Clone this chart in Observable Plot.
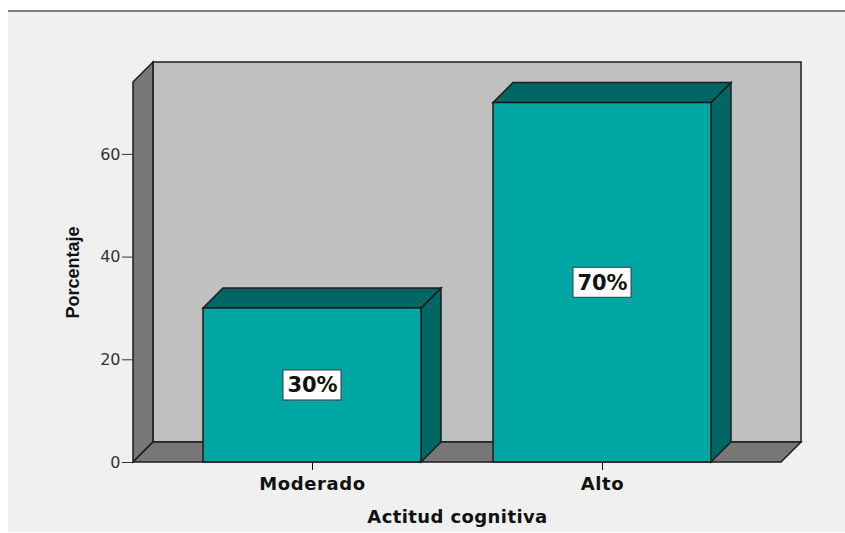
<!DOCTYPE html>
<html>
<head>
<meta charset="utf-8">
<script src="https://cdn.jsdelivr.net/npm/d3@7"></script>
<script src="https://cdn.jsdelivr.net/npm/@observablehq/plot@0.6"></script>
<style>
  html, body { margin: 0; padding: 0; background: #ffffff; }
  #panel {
    position: absolute; left: 8px; top: 10px; width: 837px; height: 520px;
    background: #f0f0f0; border-top: 2px solid #7f7f7f;
  }
  #chart { position: absolute; left: 0; top: 0; }
  #chart g[aria-label="x-axis tick label"] text { letter-spacing: 0.6px; }
  #chart g.x-title text { letter-spacing: 0.4px; }
</style>
</head>
<body>
<div id="panel"></div>
<div id="chart"></div>
<script>
// Attitude distribution (percent of respondents)
const categories = ["Moderado", "Alto"];
const percentages = [30, 70];
const valueLabels = ["30%", "70%"];
const yTicks = [0, 20, 40, 60];
const xTitle = "Actitud cognitiva";
const yTitle = "Porcentaje";

const rows = categories.map((category, i) => ({
  category,
  value: percentages[i],
  label: valueLabels[i]
}));

// Pseudo-3D styling
const DEPTH = 20;
const EDGE = "#1c1c1c";
const WALL_BACK = "#c0c0c0";
const WALL_SIDE = "#777777";
const BAR_FRONT = "#00a6a4";
const BAR_SHADE = "#006663";
const FONT = "'DejaVu Sans', Verdana, sans-serif";

// Plot hands render functions (index, scales, values, dimensions, context);
// pick out the scales and dimensions objects.
function pick(args) {
  const scales = args.find(a => a && typeof a.x === "function" && typeof a.y === "function");
  const dims = args.find(a => a && typeof a === "object" && "marginLeft" in a && "width" in a);
  return {scales, dims};
}

function polygon(g, pts, fill) {
  g.append("path")
    .attr("d", "M" + pts.map(p => p.join(",")).join("L") + "Z")
    .attr("fill", fill)
    .attr("stroke", EDGE)
    .attr("stroke-width", 1.5)
    .attr("stroke-linejoin", "miter");
}

// Back wall, left wall and floor of the 3D box
function walls(...args) {
  const {scales, dims} = pick(args);
  const x0 = dims.marginLeft, x1 = dims.width - dims.marginRight;
  const yt = dims.marginTop, yb = scales.y(0);
  const d = DEPTH;
  const g = d3.create("svg:g").attr("aria-label", "walls");
  polygon(g, [[x0 + d, yt - d], [x1 + d, yt - d], [x1 + d, yb - d], [x0 + d, yb - d]], WALL_BACK);
  polygon(g, [[x0, yt], [x0 + d, yt - d], [x0 + d, yb - d], [x0, yb]], WALL_SIDE);
  polygon(g, [[x0, yb], [x0 + d, yb - d], [x1 + d, yb - d], [x1, yb]], WALL_SIDE);
  return g.node();
}

// Top and right-side faces of each bar
function barDepth(...args) {
  const {scales} = pick(args);
  const bw = typeof scales.x.bandwidth === "function" ? scales.x.bandwidth() : scales.x.bandwidth;
  const d = DEPTH;
  const base = scales.y(0);
  const g = d3.create("svg:g").attr("aria-label", "bar depth");
  for (const r of rows) {
    const bx0 = scales.x(r.category), bx1 = bx0 + bw, top = scales.y(r.value);
    polygon(g, [[bx1, top], [bx1 + d, top - d], [bx1 + d, base - d], [bx1, base]], BAR_SHADE);
    polygon(g, [[bx0, top], [bx0 + d, top - d], [bx1 + d, top - d], [bx1, top]], BAR_SHADE);
  }
  return g.node();
}

const chart = Plot.plot({
  width: 845,
  height: 533,
  marginLeft: 133,
  marginRight: 64,
  marginTop: 82,
  marginBottom: 71,
  style: {background: "transparent", fontFamily: FONT, overflow: "visible"},
  x: {domain: categories, paddingInner: 0.25, paddingOuter: 0.24, label: null},
  y: {domain: [0, 74], label: null},
  marks: [
    walls,
    Plot.axisY({
      ticks: yTicks, tickSize: 11, tickPadding: 2, fontSize: 16,
      color: "#333", label: null
    }),
    Plot.axisX({
      tickSize: 8, tickPadding: 7, fontSize: 18, fontWeight: "bold",
      color: "#111", label: null
    }),
    barDepth,
    Plot.barY(rows, {
      x: "category", y: "value",
      fill: BAR_FRONT, stroke: EDGE, strokeWidth: 1.5
    }),
    Plot.barY(rows, {
      x: "category", y1: d => d.value / 2, y2: d => d.value / 2,
      insetLeft: 80, insetRight: 80, insetTop: -15, insetBottom: -15,
      fill: "#ffffff", stroke: "#3a3a3a", strokeWidth: 1
    }),
    Plot.text(rows, {
      x: "category", y: d => d.value / 2, text: "label",
      fontSize: 21, fontWeight: "bold", fill: "#111",
      lineAnchor: "middle"
    }),
    Plot.text([xTitle], {
      frameAnchor: "bottom", textAnchor: "middle", lineAnchor: "bottom",
      dy: 60, fontSize: 18, fontWeight: "bold", fill: "#111",
      className: "x-title"
    }),
    Plot.text([yTitle], {
      frameAnchor: "left", textAnchor: "middle", lineAnchor: "bottom",
      rotate: -90, dx: -55, fontSize: 18, fontWeight: "bold", fill: "#111",
      fontFamily: "'Liberation Sans', Arial, sans-serif"
    })
  ]
});

document.getElementById("chart").appendChild(chart);
</script>
</body>
</html>
